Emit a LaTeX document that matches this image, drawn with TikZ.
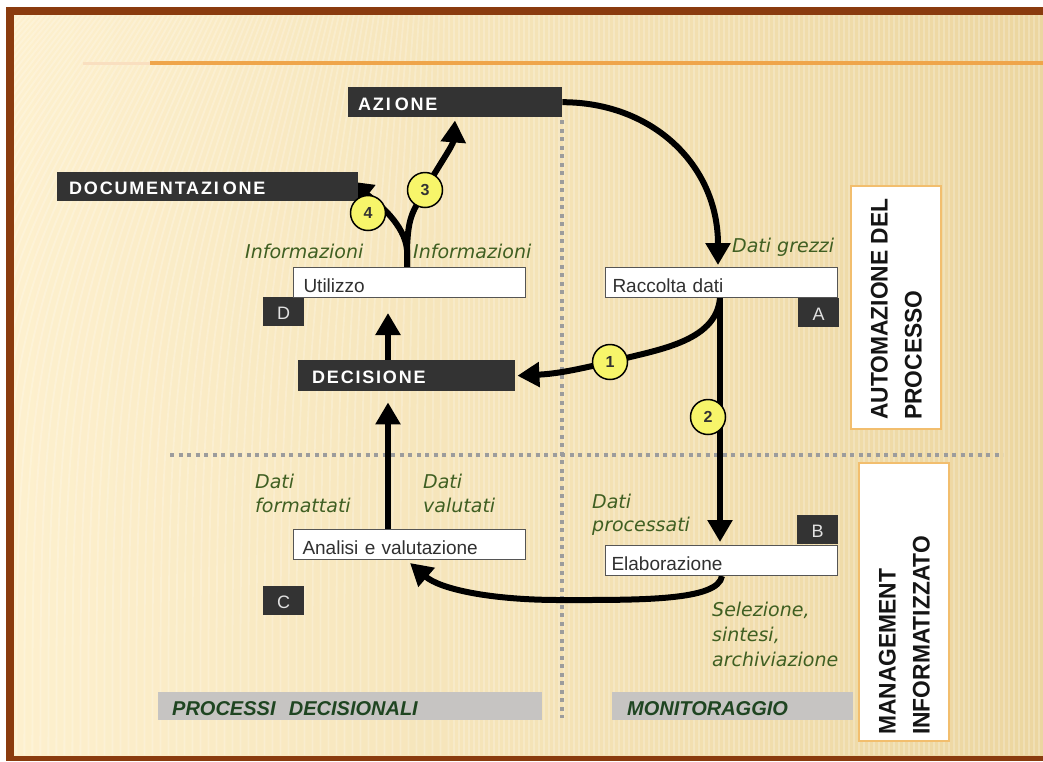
\documentclass[tikz,border=0pt]{standalone}
\usepackage{fontspec}
\setmainfont{Liberation Sans}
\newfontfamily\boxfont{Liberation Sans}[LetterSpace=10.0]
\newfontfamily\sidefont{Liberation Sans}[FakeStretch=0.95]
\newfontfamily\greenfont{DejaVu Sans}
\usetikzlibrary{arrows.meta,calc}
\pgfdeclarelayer{back}
\pgfdeclarelayer{arrowlayer}
\pgfsetlayers{back,arrowlayer,main}
\definecolor{frame}{HTML}{8A3B0E}
\definecolor{bgl}{HTML}{FDF0CE}
\definecolor{bgr}{HTML}{ECD6A0}
\definecolor{boxdark}{HTML}{333333}
\definecolor{lettergray}{HTML}{E2E2E2}
\definecolor{txtgreen}{HTML}{3F5F22}
\definecolor{bargreen}{HTML}{1F4521}
\definecolor{bargray}{HTML}{C6C4C2}
\definecolor{dotgray}{HTML}{9C9C9C}
\definecolor{orangeline}{HTML}{EFA54A}
\definecolor{sideborder}{HTML}{F2BE6E}
\definecolor{circfill}{HTML}{F7F56A}
\definecolor{wborder}{HTML}{555555}
\definecolor{boxtext}{HTML}{303030}
\definecolor{numtext}{HTML}{333333}
\definecolor{sidetxt}{HTML}{151515}
\tikzset{
 flow/.style={draw=black, line width=6pt, -{Triangle[width=24pt,length=22pt]}},
 dbox/.style={fill=boxdark, text=white, font=\boxfont\bfseries\fontsize{18}{18}\selectfont, inner ysep=0pt, align=left, anchor=north west, minimum height=30pt, text height=16pt, text depth=0pt},
 wbox/.style={fill=white, draw=wborder, line width=1pt, text=boxtext, font=\fontsize{19}{19}\selectfont, inner ysep=0pt, align=left, anchor=north west, minimum height=30pt, text height=20pt, text depth=0pt},
 lbox/.style={fill=boxdark, text=lettergray, font=\fontsize{18}{18}\selectfont, inner sep=0pt, anchor=north west, minimum width=41pt, minimum height=29pt, text height=15pt, text depth=0pt},
 numc/.style={circle, fill=circfill, draw=black, line width=1.5pt, minimum size=35pt, inner sep=0pt, font=\bfseries\fontsize{16}{16}\selectfont, text=numtext},
 glabel/.style={font=\greenfont\itshape\fontsize{19}{19}\selectfont, text=txtgreen, anchor=base west, inner sep=0pt},
 sidebox/.style={fill=white, draw=sideborder, line width=2pt, anchor=north west, minimum width=90pt, inner sep=0pt},
 sidetext/.style={font=\sidefont\bfseries\fontsize{24}{34}\selectfont, text=sidetxt, rotate=90, anchor=south west, align=left, inner sep=0pt},
 bar/.style={fill=bargray, text=bargreen, font=\bfseries\itshape\fontsize{20}{20}\selectfont, anchor=north west, minimum height=28pt, inner ysep=0pt, align=left, text height=18pt, text depth=0pt},
 dotline/.style={draw=dotgray, line width=4pt, dash pattern=on 4pt off 4.5pt},
}
\begin{document}
\begin{tikzpicture}[x=1pt,y=-1pt]
\useasboundingbox (0,0) rectangle (1043,761);
\begin{pgfonlayer}{back}
\fill[white] (0,0) rectangle (1043,761);
\fill[frame] (6,7) rectangle (1043,761);
\shade[left color=bgl, right color=bgr] (14,15) rectangle (1043,755);
\begin{scope}
 \clip (14,15) rectangle (1043,755);
 \foreach \i in {0,...,206}{
   \pgfmathsetmacro\xx{14+5*\i}
   \pgfmathsetmacro\ss{max(0,450-\xx)*0.6}
   \draw[white, opacity=0.22, line width=1.8pt] (\xx,15) .. controls (\xx-\ss,300) and (\xx-\ss,400) .. (\xx-\ss,755);
 }
\end{scope}
\draw[orangeline!35, line width=3pt] (83,63) -- (150,63);
\draw[orangeline, line width=4pt] (150,63) -- (1043,63);
\draw[dotline] (562,120) -- (562,718);
\draw[dotline] (170,455) -- (1003,455);
\node[bar, text width=356pt, inner xsep=14pt] (procbar) at (158,692) {PROCESSI\ \ DECISIONALI};
\node[bar, text width=211pt, inner xsep=15pt] (monbar) at (612,692) {MONITORAGGIO};
\node[sidebox, minimum height=243pt] (autobox) at (850,185) {};
\node[sidebox, minimum height=278pt] (mgmtbox) at (858,462) {};
\end{pgfonlayer}

\node[sidetext] (autotext) at (922,420) {AUTOMAZIONE DEL\\PROCESSO};
\node[sidetext] (mgmttext) at (930,735) {MANAGEMENT\\INFORMATIZZATO};

% letter boxes
\node[lbox] (lD) at (263,297) {D};
\node[lbox] (lA) at (798,298) {A};
\node[lbox] (lB) at (797,515) {B};
\node[lbox] (lC) at (263,586) {C};

% dark boxes
\node[dbox, text width=194pt, inner xsep=10pt] (azione) at (348,87) {AZI\kern4pt ONE};
\node[dbox, text width=277pt, inner xsep=12pt, minimum height=29pt] (docu) at (57,172) {DOCUMENTAZI\kern4pt ONE};
\node[dbox, text width=189pt, inner xsep=14pt, minimum height=31pt] (decisione) at (298,360) {DECISIONE};

% white boxes
\node[wbox, text width=212pt, inner xsep=10pt] (utilizzo) at (293,267) {Utilizzo};
\node[wbox, text width=218pt, inner xsep=7pt] (raccolta) at (605,267) {Raccolta dati};
\node[wbox, text width=214pt, inner xsep=9pt] (analisi) at (293,529) {Analisi e valutazione};
\node[wbox, text width=220pt, inner xsep=6pt] (elab) at (605,545) {Elaborazione};

% numbered circles
\node[numc] (c1) at (610,362) {1};
\node[numc] (c2) at (708,417) {2};
\node[numc] (c3) at (425,190) {3};
\node[numc] (c4) at (368,213) {4};

% connectors
\coordinate (stem) at ($(utilizzo.north west)+(114,0)$);
\coordinate (fork) at ($(stem)+(0,-17)$);
\coordinate (m1) at (560,600);
\begin{pgfonlayer}{arrowlayer}
\draw[flow] (azione.east) .. controls +(90,0) and +(0,-100) .. ($(raccolta.north west)+(113,-2)$);
\draw[flow] ($(raccolta.south west)+(115,0)$) .. controls +(-4,45) and +(45,-12) .. (c1.center) .. controls +(-35,8) and +(40,-2) .. ([xshift=2pt]decisione.east);
\draw[flow] ($(raccolta.south west)+(115,0)$) -- ($(elab.north west)+(115,-3)$);
\draw[flow] ($(elab.south west)+(117,0)$) .. controls +(-4,25) and +(80,0) .. (m1) .. controls +(-70,0) and +(30,26) .. ($(analisi.south west)+(117,3)$);
\draw[flow] ($(decisione.north west)+(90,0)$) -- ($(utilizzo.south west)+(95,15)$);
\draw[flow] ($(analisi.north west)+(95,0)$) -- ($(decisione.south west)+(90,11)$);
\draw[flow] (stem) -- (fork) .. controls +(1,-35) and +(-12,22) .. (c3.center) .. controls +(14,-25) and +(-2,25) .. ($(azione.south west)+(107,3)$);
\draw[flow] (stem) -- (fork) .. controls +(-2,-25) and +(28,22) .. ($(docu.south east)+(-8,-20)$);
\end{pgfonlayer}

% green labels
\node[glabel] (lgrezzi) at (732,252) {Dati grezzi};
\node[glabel] (linfo1) at (245,258) {Informazioni};
\node[glabel] (linfo2) at (413,258) {Informazioni};
\node[glabel] (lform1) at (255,488) {Dati};
\node[glabel] (lform2) at (255,512) {formattati};
\node[glabel] (lval1) at (423,488) {Dati};
\node[glabel] (lval2) at (423,512) {valutati};
\node[glabel] (lproc1) at (592,508) {Dati};
\node[glabel] (lproc2) at (592,531) {processati};
\node[glabel] (lsel1) at (712,616) {Selezione,};
\node[glabel] (lsel2) at (712,641) {sintesi,};
\node[glabel] (lsel3) at (712,666) {archiviazione};
\end{tikzpicture}
\end{document}
